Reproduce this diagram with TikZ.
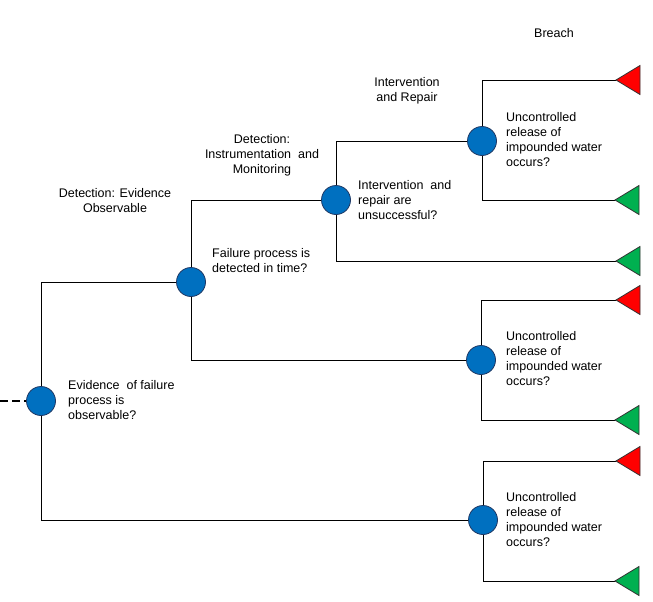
\documentclass[tikz,border=0pt]{standalone}
\usepackage{fontspec}
\setmainfont{Liberation Sans}
\definecolor{nodeblue}{RGB}{0,112,192}
\definecolor{nodeedge}{RGB}{31,56,100}
\definecolor{breachred}{RGB}{255,0,0}
\definecolor{safegreen}{RGB}{0,176,80}
\begin{document}
\begin{tikzpicture}[x=1pt,y=-1pt,
  chance/.style={draw=nodeedge, fill=nodeblue, circle, minimum size=29pt, inner sep=0pt, line width=0.8pt},
  question/.style={anchor=west, align=left, inner sep=0pt, font=\fontsize{12.5}{15}\selectfont},
  heading/.style={align=center, inner sep=0pt, font=\fontsize{12.5}{15}\selectfont},
  branch/.style={draw, line width=0.9pt}]
\useasboundingbox (0,0) rectangle (653,602);

\coordinate (s) at (0,401);
\node[chance] (1) at (41,401) {};
\node[chance] (2) at (191,282) {};
\node[chance] (3) at (336,200) {};
\node[chance] (4) at (482,141) {};
\node[chance] (5) at (481,360) {};
\node[chance] (6) at (483,520) {};

% end points (tips of the triangles)
\coordinate (e1) at (616,80);
\coordinate (e2) at (615,200);
\coordinate (e3) at (616,261);
\coordinate (e4) at (616,300);
\coordinate (e5) at (615,420);
\coordinate (e6) at (616,461);
\coordinate (e7) at (615,581);

\path[draw,line width=1.8pt,dash pattern=on 8pt off 4pt] (s) -- (1);
\path[branch] (1) |- (2);
\path[branch] (1) |- (6);
\path[branch] (2) |- (3);
\path[branch] (2) |- (5);
\path[branch] (3) |- (4);
\path[branch] (3) |- (e3);
\path[branch] (4) |- (e1);
\path[branch] (4) |- (e2);
\path[branch] (5) |- (e4);
\path[branch] (5) |- (e5);
\path[branch] (6) |- (e6);
\path[branch] (6) |- (e7);

\foreach \e/\c in {e1/breachred, e2/safegreen, e3/safegreen, e4/breachred,
                   e5/safegreen, e6/breachred, e7/safegreen}
  \path[draw=black!80, fill=\c, line width=0.8pt] (\e) -- ++(24,-14.5) -- ++(0,29) -- cycle;

\node[question] (q1) at (68,400) {Evidence\ \ of failure\\process is\\observable?};
\node[question] (q2) at (212,261) {Failure process is\\detected in time?};
\node[question] (q3) at (358,200) {Intervention\ \ and\\repair are\\unsuccessful?};
\node[question] (q4) at (506,140) {Uncontrolled\\release of\\impounded water\\occurs?};
\node[question] (q5) at (506,359) {Uncontrolled\\release of\\impounded water\\occurs?};
\node[question] (q6) at (506,520) {Uncontrolled\\release of\\impounded water\\occurs?};

\node[heading] (h1) at (115,201) {Detection: Evidence\\Observable};
\node[heading] (h2) at (262,155) {Detection:\\Instrumentation\ \ and\\Monitoring};
\node[heading] (h3) at (407,91) {Intervention\\and Repair};
\node[heading] (h4) at (554,33) {Breach};
\end{tikzpicture}
\end{document}
